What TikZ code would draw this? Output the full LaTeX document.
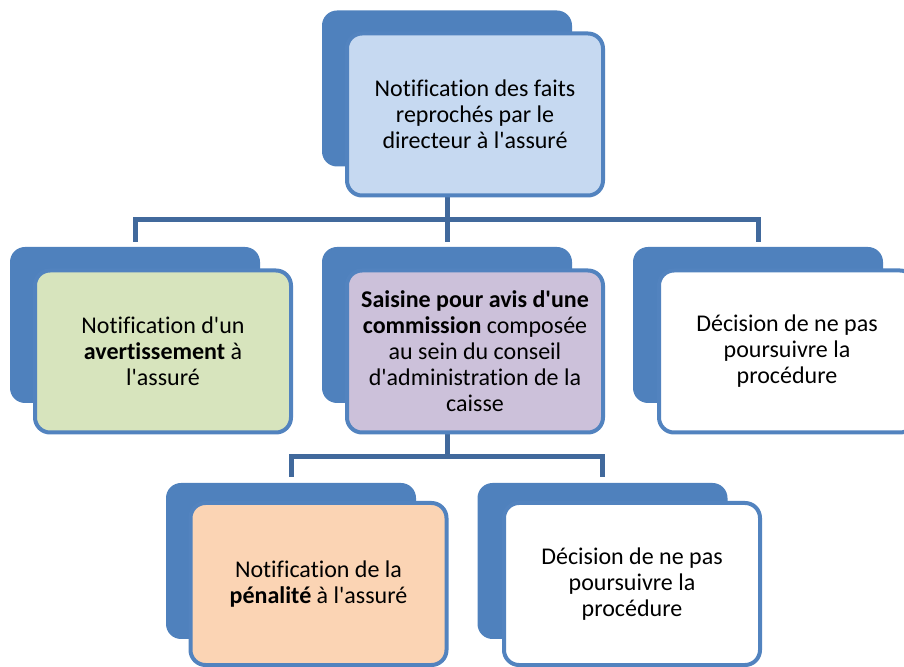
\documentclass[tikz,border=0pt]{standalone}
\usepackage{fontspec}
\setmainfont{Carlito}[Ligatures=NoCommon]
\newcommand\ap{\textquotesingle}
\definecolor{backblue}{HTML}{4F81BD}
\definecolor{edgeblue}{HTML}{5283BF}
\definecolor{connblue}{HTML}{41699C}
\definecolor{fillblue}{HTML}{C6D9F1}
\definecolor{fillgreen}{HTML}{D7E4BD}
\definecolor{fillpurple}{HTML}{CCC1DA}
\definecolor{fillpeach}{HTML}{FBD4B4}
\begin{document}
\begin{tikzpicture}[x=1pt,y=1pt,
  backbox/.style={rectangle, rounded corners=15pt, fill=backblue, draw=none,
    minimum width=250pt, minimum height=156pt, inner sep=0pt},
  frontbox/.style={rectangle, rounded corners=15pt, draw=edgeblue, line width=4pt,
    minimum width=256pt, minimum height=162pt, inner sep=0pt, align=center,
    font=\fontsize{24}{26}\selectfont},
  conn/.style={draw=connblue, line width=5pt, line join=miter}]
\clip (0,0) rectangle (904,666);
% bus coordinates
\coordinate (bus1) at (447,446);
\coordinate (bus2) at (447,209);
% back boxes
\node[backbox] (topback) at (447,577.5) {};
\node[backbox] (lback) at (135,341) {};
\node[backbox] (mback) at (447,341) {};
\node[backbox] (rback) at (758,341) {};
\node[backbox] (blback) at (291,105) {};
\node[backbox] (brback) at (602.5,105) {};
% connectors (behind front boxes)
\draw[conn] (topback.center |- 0,471) -- (bus1);
\draw[conn] ([yshift=5pt]lback.north) |- (bus1) -| ([yshift=5pt]rback.north);
\draw[conn] (bus1) -- ([yshift=5pt]mback.north);
\draw[conn] (mback.center |- 0,233) -- (bus2);
\draw[conn] ([yshift=6pt]blback.north) |- (bus2) -| ([yshift=6pt]brback.north);
% front boxes
\node[frontbox, fill=fillblue] (top) at (475,551.5)
  {Notification des faits\\reprochés par le\\directeur à l\ap assuré};
\node[frontbox, fill=fillgreen] (left) at (163,314.5)
  {Notification d\ap un\\\textbf{avertissement} à\\l\ap assuré};
\node[frontbox, fill=fillpurple] (mid) at (475,314.5)
  {\textbf{Saisine pour avis d\ap une}\\\textbf{commission} composée\\au sein du conseil\\d\ap administration de la\\caisse};
\node[frontbox, fill=white] (right) at (787,314.5)
  {Décision de ne pas\\poursuivre la\\procédure};
\node[frontbox, fill=fillpeach] (bleft) at (318.5,82)
  {Notification de la\\\textbf{pénalité} à l\ap assuré};
\node[frontbox, fill=white] (bright) at (632,82)
  {Décision de ne pas\\poursuivre la\\procédure};
\end{tikzpicture}
\end{document}
